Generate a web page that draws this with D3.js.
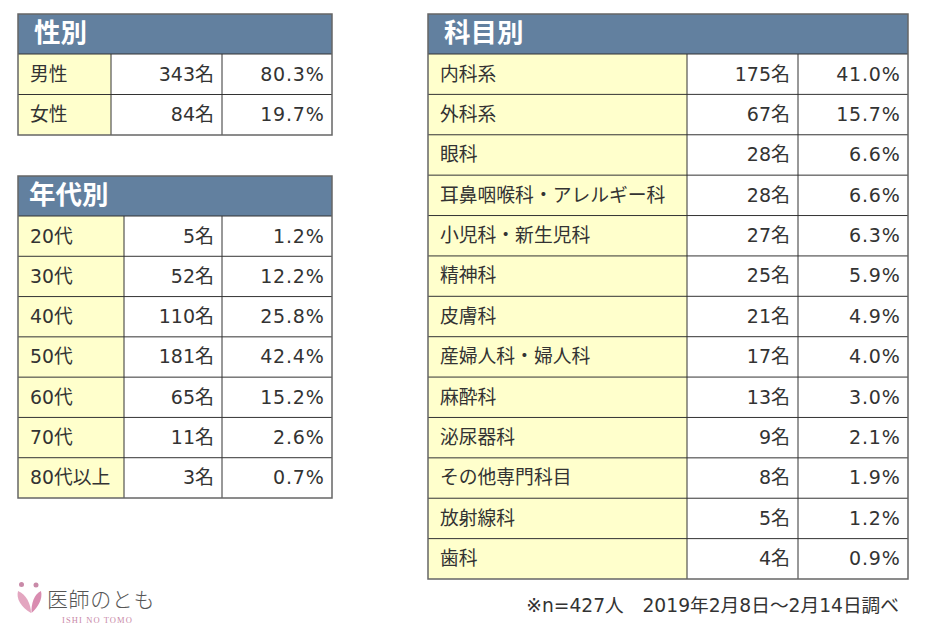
<!DOCTYPE html>
<html>
<head>
<meta charset="utf-8">
<script src="https://cdn.jsdelivr.net/npm/d3@7"></script>
<style>
  html, body { margin: 0; padding: 0; background: #fff; }
  text { font-family: "DejaVu Sans", "Noto Sans CJK JP", sans-serif; }
</style>
</head>
<body>
<div id="chart"></div>
<script>
// data
var genderLabels = ["男性", "女性"];
var genderCounts = [343, 84];
var genderPct = [80.3, 19.7];

var ageLabels = ["20代", "30代", "40代", "50代", "60代", "70代", "80代以上"];
var ageCounts = [5, 52, 110, 181, 65, 11, 3];
var agePct = [1.2, 12.2, 25.8, 42.4, 15.2, 2.6, 0.7];

var deptLabels = ["内科系", "外科系", "眼科", "耳鼻咽喉科・アレルギー科", "小児科・新生児科", "精神科", "皮膚科", "産婦人科・婦人科", "麻酔科", "泌尿器科", "その他専門科目", "放射線科", "歯科"];
var deptCounts = [175, 67, 28, 28, 27, 25, 21, 17, 13, 9, 8, 5, 4];
var deptPct = [41.0, 15.7, 6.6, 6.6, 6.3, 5.9, 4.9, 4.0, 3.0, 2.1, 1.9, 1.2, 0.9];

var note = "※n=427人　2019年2月8日～2月14日調べ";

var svg = d3.select("#chart").append("svg")
  .attr("width", 928)
  .attr("height", 629)
  .style("display", "block");

function drawTable(title, labels, counts, pct, o) {
  var g = svg.append("g");
  var y = d3.scaleBand().domain(labels).range([o.top + 40, o.bottom]);

  g.append("rect")
    .attr("x", o.cols[0]).attr("y", o.top)
    .attr("width", o.cols[3] - o.cols[0]).attr("height", 40)
    .attr("fill", "#62809f");
  g.append("text")
    .attr("x", o.cols[0] + o.titleX).attr("y", o.top + 28)
    .attr("fill", "#fff")
    .attr("font-size", 26.5)
    .attr("font-weight", "bold")
    .text(title);

  var row = g.selectAll(".row").data(labels).enter().append("g").attr("class", "row");
  row.append("rect")
    .attr("x", o.cols[0]).attr("y", function(d) { return y(d); })
    .attr("width", o.cols[1] - o.cols[0]).attr("height", y.bandwidth())
    .attr("fill", "#ffffcc");
  row.append("text")
    .attr("x", o.cols[0] + 12).attr("y", function(d) { return y(d) + 26.5; })
    .attr("font-size", 18.8).attr("fill", "#333")
    .text(function(d) { return d; });
  row.append("text")
    .attr("x", o.cols[2] - 8).attr("y", function(d) { return y(d) + 26.5; })
    .attr("text-anchor", "end")
    .attr("font-size", 19).attr("fill", "#333")
    .text(function(d, i) { return counts[i] + "名"; });
  row.append("text")
    .attr("x", o.cols[3] - 7.5).attr("y", function(d) { return y(d) + 26.5; })
    .attr("text-anchor", "end")
    .attr("font-size", 19).attr("fill", "#333")
    .attr("letter-spacing", 0.8)
    .text(function(d, i) { return pct[i].toFixed(1) + "%"; });

  // grid lines
  var ys = labels.map(function(d) { return y(d); });
  g.selectAll(".h").data(ys).enter().append("line")
    .attr("x1", o.cols[0]).attr("x2", o.cols[3])
    .attr("y1", function(d) { return d; }).attr("y2", function(d) { return d; })
    .attr("stroke", "#333").attr("stroke-width", 1);
  g.selectAll(".v").data([o.cols[1], o.cols[2]]).enter().append("line")
    .attr("x1", function(d) { return d; }).attr("x2", function(d) { return d; })
    .attr("y1", o.top + 40).attr("y2", o.bottom)
    .attr("stroke", "#333").attr("stroke-width", 1);
  g.append("rect")
    .attr("x", o.cols[0]).attr("y", o.top)
    .attr("width", o.cols[3] - o.cols[0]).attr("height", o.bottom - o.top)
    .attr("fill", "none").attr("stroke", "#666").attr("stroke-width", 1.5);
}

drawTable("性別", genderLabels, genderCounts, genderPct, { top: 14, bottom: 135, cols: [18, 111, 222, 332], titleX: 16 });
drawTable("年代別", ageLabels, ageCounts, agePct, { top: 176, bottom: 498, cols: [18, 124, 222, 332], titleX: 11 });
drawTable("科目別", deptLabels, deptCounts, deptPct, { top: 14, bottom: 579, cols: [428, 687, 798, 908], titleX: 16 });

svg.append("text")
  .attr("x", 899).attr("y", 612)
  .attr("text-anchor", "end")
  .attr("font-size", 18.7).attr("fill", "#333")
  .text(note);

// logo
var logo = svg.append("g").attr("transform", "translate(18,582)");
logo.append("circle").attr("cx", 3.5).attr("cy", 2.5).attr("r", 2.5).attr("fill", "#c98aa8");
logo.append("circle").attr("cx", 18).attr("cy", 3).attr("r", 2.5).attr("fill", "#c98aa8");
logo.append("path").attr("d", "M0,9 C-2,17 3,25 13,31 C13,22 8,12 0,9Z").attr("fill", "#e3a6c0");
logo.append("path").attr("d", "M23,9 C25,17 20,25 13.5,31 C13,22 16,12 23,9Z").attr("fill", "#d98cb0");
svg.append("text")
  .attr("x", 47).attr("y", 607)
  .attr("font-size", 21).attr("fill", "#555")
  .attr("letter-spacing", 0.6)
  .style("font-family", '"Noto Sans CJK JP", sans-serif')
  .style("font-weight", 300)
  .text("医師のとも");
svg.append("text")
  .attr("x", 62).attr("y", 623)
  .attr("font-size", 8.5).attr("fill", "#c98aa8").attr("letter-spacing", 1.1)
  .style("font-family", '"Liberation Serif", serif')
  .text("ISHI NO TOMO");
</script>
</body>
</html>
